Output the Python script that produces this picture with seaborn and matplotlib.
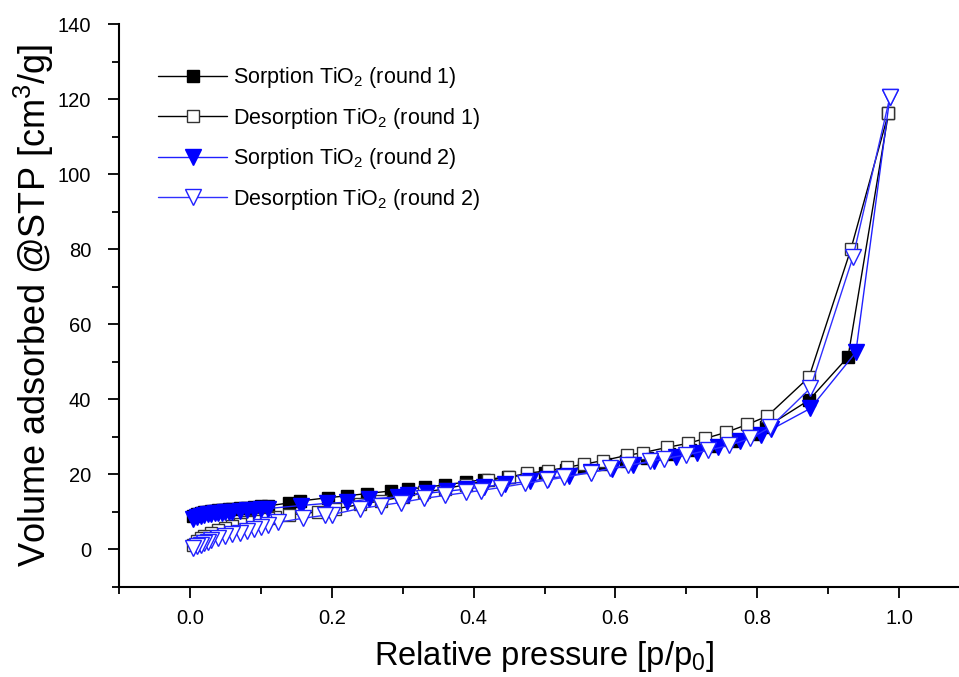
import matplotlib
matplotlib.use("Agg")
import matplotlib.pyplot as plt
import seaborn as sns
import pandas as pd
from matplotlib.ticker import MultipleLocator

# ---- data ----
x_sorp1 = [0.005,0.01,0.015,0.02,0.025,0.03,0.035,0.04,0.045,0.05,0.055,0.06,0.07,0.08,0.09,0.10,0.11,
           0.14,0.155,0.195,0.222,0.25,0.284,0.307,0.332,0.36,0.39,0.414,0.448,0.476,0.50,0.53,0.555,
           0.585,0.615,0.645,0.675,0.705,0.735,0.765,0.795,0.812,0.873,0.928,0.985]
y_sorp1 = [8.8,9.4,9.7,9.9,10.1,10.2,10.3,10.4,10.5,10.6,10.7,10.8,11.0,11.1,11.3,11.5,11.6,
           12.4,12.9,13.8,14.3,14.9,15.6,16.0,16.6,17.2,18.0,18.6,19.3,19.9,20.5,21.2,21.9,
           22.7,23.6,24.5,25.4,26.4,27.5,29.0,30.8,32.5,39.8,51.3,116.2]

x_desp1 = [0.985,0.932,0.873,0.814,0.786,0.756,0.727,0.703,0.673,0.639,0.617,0.583,0.555,0.532,0.505,
           0.476,0.45,0.42,0.39,0.36,0.33,0.30,0.27,0.24,0.205,0.18,0.14,0.12,0.11,0.10,0.09,0.08,
           0.07,0.06,0.05,0.04,0.03,0.02,0.015,0.01,0.005]
y_desp1 = [116.2,80.0,45.9,35.5,33.3,31.2,29.6,28.3,27.2,25.8,25.1,23.7,22.7,21.9,21.0,
           20.3,19.3,18.4,17.3,16.2,15.2,14.0,13.0,12.0,10.8,10.0,9.2,8.7,8.4,8.0,7.6,7.2,
           6.7,6.2,5.7,5.1,4.4,3.6,3.0,2.2,1.3]

x_sorp2 = [0.005,0.01,0.015,0.02,0.025,0.03,0.035,0.04,0.045,0.05,0.055,0.06,0.07,0.08,0.09,0.10,0.11,
           0.156,0.194,0.222,0.252,0.293,0.308,0.335,0.362,0.39,0.415,0.445,0.48,0.505,0.535,0.565,
           0.595,0.625,0.655,0.685,0.715,0.745,0.775,0.805,0.82,0.875,0.939,0.987]
y_sorp2 = [8.2,8.7,9.0,9.2,9.4,9.5,9.6,9.7,9.8,9.9,10.0,10.1,10.3,10.4,10.6,10.7,10.9,
           11.7,12.3,12.6,13.4,14.0,14.4,15.0,15.5,16.1,16.7,17.4,18.2,18.9,19.7,20.6,
           21.5,22.5,23.5,24.6,25.8,27.2,28.8,30.6,32.0,37.6,52.5,120.5]

x_desp2 = [0.987,0.935,0.875,0.818,0.79,0.76,0.73,0.70,0.668,0.649,0.618,0.593,0.565,0.527,0.504,
           0.473,0.438,0.41,0.39,0.36,0.33,0.297,0.269,0.24,0.2,0.19,0.159,0.124,0.11,0.10,0.09,
           0.08,0.07,0.06,0.05,0.04,0.03,0.025,0.02,0.015,0.01,0.005]
y_desp2 = [120.5,77.9,43.0,32.5,29.6,27.7,26.4,25.2,24.2,23.5,22.4,21.6,20.5,19.2,18.5,
           17.6,16.5,15.7,15.2,14.4,13.6,12.5,11.7,10.9,9.3,9.1,8.3,7.2,6.6,6.0,5.5,
           5.0,4.5,4.0,3.5,3.0,2.5,2.1,1.8,1.3,0.9,0.4]

labels = ["Sorption TiO$_2$ (round 1)", "Desorption TiO$_2$ (round 1)",
          "Sorption TiO$_2$ (round 2)", "Desorption TiO$_2$ (round 2)"]

sns.set_style("ticks")
plt.rcParams['font.family'] = ['Liberation Sans', 'DejaVu Sans']
plt.rcParams['mathtext.fontset'] = 'custom'
plt.rcParams['mathtext.rm'] = 'Liberation Sans'
for k in ['text.color', 'axes.labelcolor', 'xtick.color', 'ytick.color', 'axes.edgecolor']:
    plt.rcParams[k] = 'black'

fig = plt.figure(figsize=(9.59, 6.77), dpi=100)
ax = fig.add_axes([119/959, 90/677, 851/959, 563/677])

series = [
    (x_sorp1, y_sorp1, dict(color="black", marker="s", markerfacecolor="black", markeredgecolor="black", markersize=9)),
    (x_desp1, y_desp1, dict(color="black", marker="s", markerfacecolor="white", markeredgecolor="#333333", markersize=9)),
    (x_sorp2, y_sorp2, dict(color="#2020ff", marker="v", markerfacecolor="blue", markeredgecolor="blue", markersize=11.5)),
    (x_desp2, y_desp2, dict(color="#3030ff", marker="v", markerfacecolor="white", markeredgecolor="#2020ff", markersize=11.5)),
]
for (xs, ys, st), lab in zip(series, labels):
    df = pd.DataFrame({"p": xs, "v": ys})
    sns.lineplot(data=df, x="p", y="v", sort=False, estimator=None, ax=ax,
                 linewidth=1.0, markeredgewidth=1.0, label=lab, **st)

ax.set_xlim(-0.1, 1.1)
ax.set_ylim(-10, 140)
ax.xaxis.set_major_locator(MultipleLocator(0.2))
ax.xaxis.set_minor_locator(MultipleLocator(0.1))
ax.yaxis.set_major_locator(MultipleLocator(20))
ax.yaxis.set_minor_locator(MultipleLocator(10))
ax.set_xticks([0.0, 0.2, 0.4, 0.6, 0.8, 1.0])
ax.set_xticklabels(["0.0", "0.2", "0.4", "0.6", "0.8", "1.0"])
ax.tick_params(axis="both", which="major", direction="out", length=8, width=1.3, labelsize=14.5)
ax.tick_params(axis="x", which="major", pad=8)
ax.tick_params(axis="y", which="major", pad=12)
ax.tick_params(axis="both", which="minor", direction="out", length=5, width=1.3)
for s in ["top", "right"]:
    ax.spines[s].set_visible(False)
for s in ["left", "bottom"]:
    ax.spines[s].set_linewidth(1.5)

ax.set_xlabel("Relative pressure [p/p$_0$]", fontsize=23.5, labelpad=8)
ax.set_ylabel("Volume adsorbed @STP [cm$^3$/g]", fontsize=26, labelpad=1)

leg = ax.legend(loc="upper left", bbox_to_anchor=(143/959, 1 - 50/677), bbox_transform=fig.transFigure,
                frameon=False, fontsize=15.5, handlelength=3.2, handletextpad=0.3, labelspacing=0.72,
                borderpad=0.2)

fig.savefig("out.png", dpi=100)
